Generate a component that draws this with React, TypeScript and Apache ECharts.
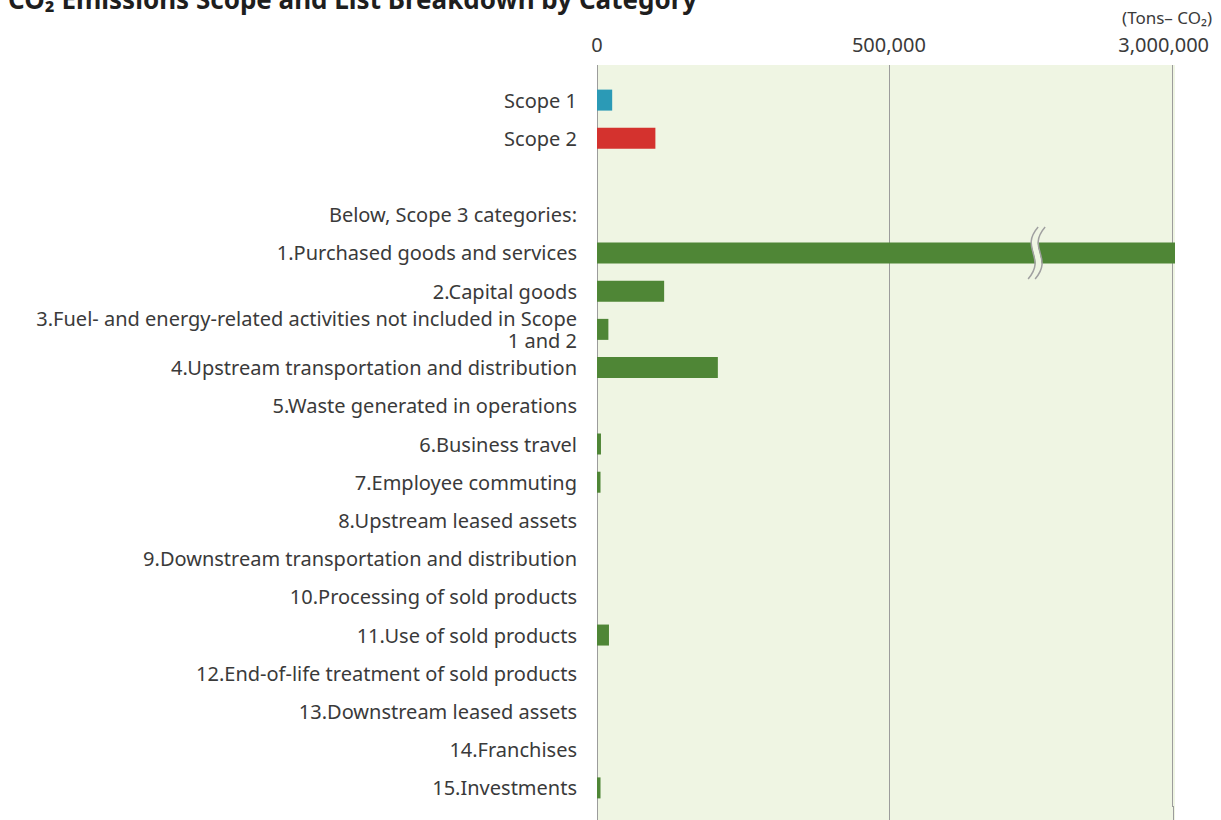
import React, { useEffect, useRef } from 'react';
import * as echarts from 'echarts';

const categories: string[] = [
  'Scope 1',
  'Scope 2',
  ' ',
  'Below, Scope 3 categories:',
  '1.Purchased goods and services',
  '2.Capital goods',
  '3.Fuel- and energy-related activities not included in Scope\n1 and 2',
  '4.Upstream transportation and distribution',
  '5.Waste generated in operations',
  '6.Business travel',
  '7.Employee commuting',
  '8.Upstream leased assets',
  '9.Downstream transportation and distribution',
  '10.Processing of sold products',
  '11.Use of sold products',
  '12.End-of-life treatment of sold products',
  '13.Downstream leased assets',
  '14.Franchises',
  '15.Investments',
];

// Tons-CO2 (null = no bar / spacer rows)
const scope1Value = 26000;
const scope2Value = 100000;
const scope3Values: number[] = [
  3004000, 115000, 19500, 207000, 0, 6800, 6000, 0, 0, 0, 20500, 0, 0, 0, 6000,
];
const tickValues: number[] = [0, 500000, 3000000];
const axisBreak = { start: 753000, end: 2767000 };
const axisMax = 3004000;

const title = 'CO₂ Emissions Scope and List Breakdown by Category';
const unitLabel = '(Tons– CO₂)';

const FONT = '"Noto Sans", "Open Sans", sans-serif';
const TEXT = '#3a3a3a';
const GRID_LINE = '#9c9c9c';
const BG = '#eff5e3';
const TEAL = '#2b9ab6';
const RED = '#d4322e';
const GREEN = '#4f8636';

export default function App() {
  const ref = useRef<HTMLDivElement>(null);

  useEffect(() => {
    if (!ref.current) return;
    const chart = echarts.init(ref.current, undefined, { renderer: 'svg' });

    const values: (number | null)[] = [
      scope1Value,
      scope2Value,
      null,
      null,
      ...scope3Values,
    ];
    const data = values.map((v, i) => ({
      value: v,
      itemStyle: { color: i === 0 ? TEAL : i === 1 ? RED : GREEN },
    }));

    const baseGraphics: any[] = [
      {
        type: 'rect',
        z: -10,
        silent: true,
        shape: { x: 597, y: 65, width: 578, height: 760 },
        style: { fill: BG },
      },
      {
        type: 'text',
        x: 8,
        y: -1,
        style: {
          text: title,
          font: `bold 26px ${FONT}`,
          fill: '#1e1e1e',
          textVerticalAlign: 'middle',
        },
      },
      {
        type: 'text',
        x: 1212,
        y: 17,
        style: {
          text: unitLabel,
          font: `17px ${FONT}`,
          fill: TEXT,
          textAlign: 'right',
          textVerticalAlign: 'middle',
        },
      },
    ];

    chart.setOption({
      animation: false,
      graphic: baseGraphics,
      grid: { left: 597, top: 81, right: 46, bottom: 13, containLabel: false },
      xAxis: {
        type: 'value',
        position: 'top',
        min: 0,
        max: axisMax,
        breaks: [{ start: axisBreak.start, end: axisBreak.end, gap: 0 }],
        breakArea: { show: false },
        axisLine: { show: false },
        axisTick: {
          show: true,
          length: 16,
          customValues: tickValues,
          lineStyle: { color: GRID_LINE, width: 1 },
        },
        splitLine: { show: true, lineStyle: { color: GRID_LINE, width: 1 } },
        axisLabel: {
          customValues: tickValues,
          margin: 27,
          fontFamily: FONT,
          fontSize: 20,
          color: TEXT,
          formatter: (v: number) =>
            v === 3000000
              ? '{m|' + v.toLocaleString('en-US') + '}'
              : v.toLocaleString('en-US'),
          rich: {
            m: { padding: [0, 18, 0, 0], fontFamily: FONT, fontSize: 20, color: TEXT },
          },
        },
      },
      yAxis: {
        type: 'category',
        inverse: true,
        data: categories,
        axisLine: { show: false },
        axisTick: { show: false },
        splitLine: { show: false },
        axisLabel: {
          interval: 0,
          margin: 20,
          fontFamily: FONT,
          fontSize: 20,
          lineHeight: 22,
          color: TEXT,
        },
      },
      series: [
        {
          type: 'bar',
          data,
          barWidth: 21,
          z: 3,
        },
      ],
    });

    const bx = chart.convertToPixel({ xAxisIndex: 0 }, axisBreak.start) as number;
    const by = chart.convertToPixel({ yAxisIndex: 0 }, 4) as number;
    const curve = (dx: number) => ({
      x1: bx + dx + 5,
      y1: by - 26,
      cpx1: bx + dx - 14,
      cpy1: by - 4,
      cpx2: bx + dx + 14,
      cpy2: by + 4,
      x2: bx + dx - 5,
      y2: by + 26,
    });
    const gridBottom = 820 - 13;
    const extensions = tickValues.map((t) => {
      const x = Math.round(chart.convertToPixel({ xAxisIndex: 0 }, t) as number) + 0.5;
      return {
        type: 'line',
        z: 1,
        silent: true,
        shape: { x1: x, y1: gridBottom - 1, x2: x, y2: 820 },
        style: { stroke: GRID_LINE, lineWidth: 1 },
      };
    });
    chart.setOption({
      graphic: [
        ...baseGraphics,
        ...extensions,
        {
          type: 'bezierCurve',
          z: 10,
          shape: curve(0),
          style: { stroke: BG, lineWidth: 6, fill: null },
        },
        {
          type: 'bezierCurve',
          z: 11,
          shape: curve(-3.5),
          style: { stroke: '#a0a0a0', lineWidth: 1.5, fill: null },
        },
        {
          type: 'bezierCurve',
          z: 11,
          shape: curve(3.5),
          style: { stroke: '#a0a0a0', lineWidth: 1.5, fill: null },
        },
      ],
    });

    return () => chart.dispose();
  }, []);

  return (
    <div
      ref={ref}
      style={{ position: 'absolute', left: 0, top: 0, width: 1221, height: 820, background: '#fff' }}
    />
  );
}
